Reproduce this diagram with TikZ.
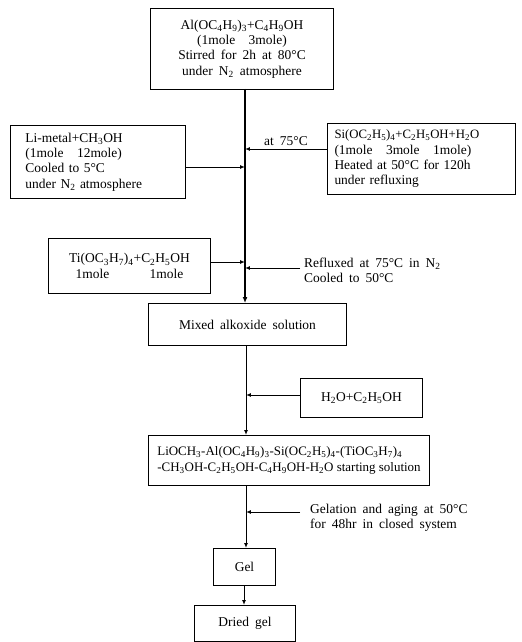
\documentclass[tikz,border=0pt]{standalone}
\usepackage{fontspec}
\setmainfont{Liberation Serif}
\usetikzlibrary{arrows.meta}
\newcommand{\sbs}[1]{\textsubscript{#1}}
\newcommand{\wsp}{\spaceskip=0.45em plus 0.1em\relax}
\begin{document}
\begin{tikzpicture}[x=1bp,y=-1bp,
  every node/.style={font=\fontsize{13.5}{15.4}\selectfont\wsp},
  box/.style={draw, line width=1pt, anchor=north west, inner sep=0pt, align=center},
  flow/.style={line width=1pt, -{Latex[length=5pt,width=4pt]}},
  mainflow/.style={line width=1.8pt, -{Latex[length=6pt,width=5pt]}},
  lbl/.style={anchor=west, align=left, inner sep=0pt}]
\useasboundingbox (0,0) rectangle (522,642);
% boxes
\node[box, minimum width=183bp, minimum height=81bp] (top) at (150,8)
  {Al(OC\sbs{4}H\sbs{9})\sbs{3}+C\sbs{4}H\sbs{9}OH\\(1mole\quad 3mole)\\Stirred for 2h at 80°C\\under N\sbs{2} atmosphere};
\node[box, align=left, text width=145bp, inner xsep=15bp, minimum height=73bp] (li) at (10,125)
  {Li-metal+CH\sbs{3}OH\\(1mole\quad 12mole)\\Cooled to 5°C\\under N\sbs{2} atmosphere};
\node[box, align=left, text width=174bp, inner xsep=7bp, minimum height=71bp] (si) at (327,123)
  {{\fontsize{12.8}{15.4}\selectfont Si(OC\sbs{2}H\sbs{5})\sbs{4}+C\sbs{2}H\sbs{5}OH+H\sbs{2}O}\\(1mole\quad 3mole\quad 1mole)\\Heated at 50°C for 120h\\under refluxing};
\node[box, minimum width=162bp, minimum height=55bp] (ti) at (48,238)
  {Ti(OC\sbs{3}H\sbs{7})\sbs{4}+C\sbs{2}H\sbs{5}OH\\1mole\qquad\quad 1mole};
\node[box, minimum width=198bp, minimum height=42bp] (mixed) at (148,303)
  {Mixed alkoxide solution};
\node[box, minimum width=122bp, minimum height=39bp] (h2o) at (300,378)
  {H\sbs{2}O+C\sbs{2}H\sbs{5}OH};
\node[box, align=left, minimum width=281bp, minimum height=50bp,
  font=\fontsize{13}{15.4}\selectfont] (start) at (148,435)
  {LiOCH\sbs{3}-Al(OC\sbs{4}H\sbs{9})\sbs{3}-Si(OC\sbs{2}H\sbs{5})\sbs{4}-(TiOC\sbs{3}H\sbs{7})\sbs{4}\\-CH\sbs{3}OH-C\sbs{2}H\sbs{5}OH-C\sbs{4}H\sbs{9}OH-H\sbs{2}O starting solution};
\node[box, minimum width=62bp, minimum height=37bp] (gel) at (213,548) {Gel};
\node[box, minimum width=101bp, minimum height=36bp] (dried) at (194,605) {Dried gel};
% coordinates on the main line
\coordinate (m0) at (245,89);
\coordinate (m1) at (245,303);
\coordinate (jli) at (245,167);
\coordinate (jsi) at (245,149);
\coordinate (jti) at (245,262);
\coordinate (jre) at (245,268);
\coordinate (sre) at (300,268);
\coordinate (m2) at (246,345);
\coordinate (m3) at (246,435);
\coordinate (jh) at (246,395);
\coordinate (m4) at (246,485);
\coordinate (m5) at (246,548);
\coordinate (jg) at (246,512);
\coordinate (sg) at (300,512);
\coordinate (m6) at (244,585);
\coordinate (m7) at (244,605);
% connectors
\draw[mainflow] (m0) -- (m1);
\draw[flow] (li.east |- jli) -- (jli);
\draw[flow] (si.west |- jsi) -- node[above=3pt, pos=0.5, inner sep=0pt] (t75) {at 75°C} (jsi);
\draw[flow] (ti.east |- jti) -- (jti);
\draw[flow] (sre) -- (jre);
\node[lbl] (reflux) at (304,270) {Refluxed at 75°C in N\sbs{2}\\Cooled to 50°C};
\draw[flow] (m2) -- (m3);
\draw[flow] (h2o.west |- jh) -- (jh);
\draw[flow] (m4) -- (m5);
\draw[flow] (sg) -- (jg);
\node[lbl] (gelat) at (310,518) {Gelation and aging at 50°C\\for 48hr in closed system};
\draw[flow] (m6) -- (m7);
\end{tikzpicture}
\end{document}
